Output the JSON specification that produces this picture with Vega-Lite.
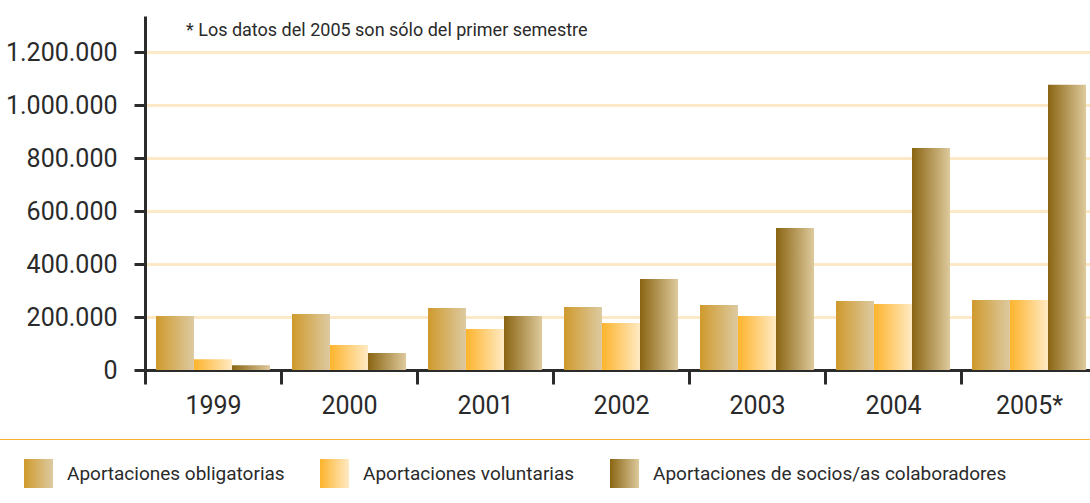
{
  "$schema": "https://vega.github.io/schema/vega-lite/v6.json",
  "autosize": {"type": "none"},
  "padding": {"left": 145, "top": 16, "right": 0, "bottom": 133},
  "width": 945,
  "height": 354,
  "background": "white",
  "title": {
    "text": "* Los datos del 2005 son sólo del primer semestre",
    "anchor": "start",
    "frame": "group",
    "orient": "top",
    "baseline": "alphabetic",
    "offset": -38,
    "dx": 41,
    "font": "Roboto",
    "fontSize": 18,
    "fontWeight": "normal",
    "color": "#2a2a2a"
  },
  "config": {
    "locale": {"number": {"decimal": ",", "thousands": ".", "grouping": [3], "currency": ["", " €"]}},
    "view": {"stroke": null},
    "font": "Roboto"
  },
  "data": {
    "values": [
      {"year": "1999", "serie": "Aportaciones obligatorias", "valor": 204000},
      {"year": "1999", "serie": "Aportaciones voluntarias", "valor": 41000},
      {"year": "1999", "serie": "Aportaciones de socios/as colaboradores", "valor": 18000},
      {"year": "2000", "serie": "Aportaciones obligatorias", "valor": 211000},
      {"year": "2000", "serie": "Aportaciones voluntarias", "valor": 94000},
      {"year": "2000", "serie": "Aportaciones de socios/as colaboradores", "valor": 64000},
      {"year": "2001", "serie": "Aportaciones obligatorias", "valor": 234000},
      {"year": "2001", "serie": "Aportaciones voluntarias", "valor": 155000},
      {"year": "2001", "serie": "Aportaciones de socios/as colaboradores", "valor": 204000},
      {"year": "2002", "serie": "Aportaciones obligatorias", "valor": 238000},
      {"year": "2002", "serie": "Aportaciones voluntarias", "valor": 177000},
      {"year": "2002", "serie": "Aportaciones de socios/as colaboradores", "valor": 343000},
      {"year": "2003", "serie": "Aportaciones obligatorias", "valor": 245000},
      {"year": "2003", "serie": "Aportaciones voluntarias", "valor": 204000},
      {"year": "2003", "serie": "Aportaciones de socios/as colaboradores", "valor": 536000},
      {"year": "2004", "serie": "Aportaciones obligatorias", "valor": 260000},
      {"year": "2004", "serie": "Aportaciones voluntarias", "valor": 249000},
      {"year": "2004", "serie": "Aportaciones de socios/as colaboradores", "valor": 838000},
      {"year": "2005*", "serie": "Aportaciones obligatorias", "valor": 264000},
      {"year": "2005*", "serie": "Aportaciones voluntarias", "valor": 264000},
      {"year": "2005*", "serie": "Aportaciones de socios/as colaboradores", "valor": 1077000}
    ]
  },
  "mark": {"type": "bar", "stroke": null},
  "encoding": {
    "x": {
      "field": "year",
      "type": "nominal",
      "sort": null,
      "scale": {"paddingInner": 0, "paddingOuter": 0, "range": [0, 952]},
      "axis": {
        "title": null,
        "labelAngle": 0,
        "labelFontSize": 25,
        "labelColor": "#2a2a2a",
        "labelPadding": 9,
        "tickBand": "extent",
        "tickSize": 14,
        "tickWidth": 3,
        "tickColor": "#2b2b2b",
        "domainColor": "#2b2b2b",
        "domainWidth": 3,
        "grid": false
      }
    },
    "xOffset": {
      "field": "serie",
      "type": "nominal",
      "sort": ["Aportaciones obligatorias", "Aportaciones voluntarias", "Aportaciones de socios/as colaboradores"],
      "scale": {"paddingInner": 0, "paddingOuter": 0.29}
    },
    "y": {
      "field": "valor",
      "type": "quantitative",
      "scale": {"domain": [0, 1336000], "nice": false, "zero": true},
      "axis": {
        "title": null,
        "values": [0, 200000, 400000, 600000, 800000, 1000000, 1200000],
        "format": ",d",
        "labelFontSize": 25,
        "labelColor": "#2a2a2a",
        "labelPadding": 17,
        "tickSize": 11,
        "tickWidth": 3,
        "tickColor": "#2b2b2b",
        "domainColor": "#2b2b2b",
        "domainWidth": 3,
        "grid": true,
        "gridColor": "#FDE9C8",
        "gridWidth": 3
      }
    },
    "color": {
      "field": "serie",
      "type": "nominal",
      "sort": ["Aportaciones obligatorias", "Aportaciones voluntarias", "Aportaciones de socios/as colaboradores"],
      "scale": {
        "domain": ["Aportaciones obligatorias", "Aportaciones voluntarias", "Aportaciones de socios/as colaboradores"],
        "range": [
          {"expr": "{gradient: 'linear', x1: 0, y1: 0, x2: 1, y2: 0, stops: [{offset: 0, color: '#CF9A2C'}, {offset: 1, color: '#DDCAA2'}]}"},
          {"expr": "{gradient: 'linear', x1: 0, y1: 0, x2: 1, y2: 0, stops: [{offset: 0, color: '#FDB42C'}, {offset: 1, color: '#FFEAC4'}]}"},
          {"expr": "{gradient: 'linear', x1: 0, y1: 0, x2: 1, y2: 0, stops: [{offset: 0, color: '#8A6512'}, {offset: 1, color: '#DDC99C'}]}"}
        ]
      },
      "legend": {
        "title": ".",
        "titleOrient": "right",
        "titleColor": "#ffffff",
        "titlePadding": 90,
        "titleFontSize": 10,
        "orient": "none",
        "legendX": -146,
        "legendY": 423,
        "direction": "horizontal",
        "columns": 3,
        "columnPadding": 30,
        "padding": 20,
        "strokeColor": "#FBB431",
        "symbolType": "square",
        "symbolSize": 841,
        "symbolStrokeWidth": 0,
        "symbolOffset": 5,
        "labelOffset": 14,
        "labelFontSize": 19,
        "labelColor": "#2a2a2a",
        "labelLimit": 800
      }
    }
  }
}
